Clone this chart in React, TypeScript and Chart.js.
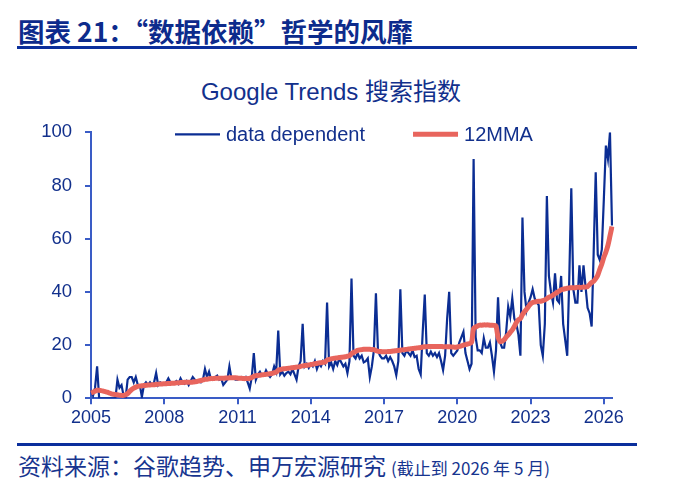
import React, { useEffect, useRef } from 'react';
import Chart from 'chart.js/auto';

// monthly, Jan 2005 - May 2026
const startYear = 2005;
const yTicks = [0, 20, 40, 60, 80, 100];

const dataDependent = [
  3, 1, 4, 12, 0, 0, 0, 0, 0, 0, 0, 0, // 2005
  0, 7, 4, 5, 1, 0, 7, 8, 8, 6, 8, 5, // 2006
  5, 0.5, 5, 6, 5, 6, 5, 6, 9.5, 5, 6, 5.5, // 2007
  5.5, 6, 7.5, 6, 5.5, 6, 6.5, 5.5, 7.5, 6, 5.5, 6.5, // 2008
  5, 6.5, 8, 7, 6, 6.5, 6, 7, 11, 8, 10, 7, // 2009
  7, 8, 8.5, 7, 7.5, 5, 6, 7, 12, 7.5, 7.5, 7, // 2010
  7, 7.5, 8, 7.5, 8, 6, 3.7, 8, 17, 7, 9, 10, // 2011
  8.5, 8.5, 10.5, 9, 8, 9, 12, 10, 25.5, 9, 10, 8.5, // 2012
  9.5, 10, 9, 11, 9, 7, 12, 14, 28, 12, 13, 11.5, // 2013
  13, 12, 14, 11, 13, 12, 14, 13, 36, 12, 13.5, 11, // 2014
  14, 12.5, 15, 13.5, 12, 13, 9.5, 14, 45, 16, 15, 17, // 2015
  15, 16, 13.5, 14, 15, 8, 12, 18, 39.5, 18, 16, 15, // 2016
  15, 16, 14, 15.5, 14, 12, 8.7, 14, 41, 17, 16, 18, // 2017
  17, 16, 18, 15.5, 16, 11, 9, 25, 39, 17, 16, 17.5, // 2018
  16, 17, 15.5, 17, 14, 10.6, 16, 30, 40, 17, 16, 17, // 2019
  18, 21, 23, 25, 17, 14, 11, 13, 90, 23, 18, 18, // 2020
  17, 22.6, 19, 19, 21, 16, 10, 18, 38, 21, 19, 19, // 2021
  25, 34.5, 30.7, 37.6, 30, 28, 24, 16, 68, 40, 33, 36, // 2022
  38, 41, 37.6, 36, 35, 20, 16, 28, 76, 46, 40, 36, // 2023
  47, 37, 36, 46, 28, 22, 16, 45, 79, 41, 36, 36, // 2024
  50, 40, 50, 42, 34, 32, 27, 55, 85, 54, 52, 56, // 2025
  75, 95, 90, 100, 65 // 2026
];

const mma12 = [
  2, 2.3, 2.7, 3, 3, 2.9, 2.7, 2.5, 2.3, 2, 1.7, 1.5,
  1.4, 1.3, 1.2, 1.1, 1.1, 1.3, 1.8, 2.6, 3.3, 3.8, 4.2, 4.5,
  4.6, 4.7, 4.8, 4.9, 5, 5, 5.1, 5.1, 5.2, 5.3, 5.4, 5.4,
  5.5, 5.5, 5.6, 5.6, 5.7, 5.7, 5.8, 5.8, 5.9, 5.9, 6, 6,
  6, 6, 6.1, 6.2, 6.3, 6.5, 6.7, 6.9, 7.1, 7.2, 7.3, 7.4,
  7.4, 7.5, 7.5, 7.5, 7.5, 7.5, 7.6, 7.6, 7.7, 7.7, 7.7, 7.7,
  7.6, 7.5, 7.5, 7.4, 7.4, 7.4, 7.5, 7.8, 8.3, 8.5, 8.6, 8.7,
  8.8, 8.9, 9, 9.1, 9.2, 9.4, 9.6, 9.8, 10.6, 10.8, 11, 11.1,
  11.2, 11.3, 11.4, 11.5, 11.6, 11.7, 11.8, 12, 12.2, 12.3, 12.4, 12.5,
  12.7, 12.8, 13, 13.1, 13.3, 13.4, 13.5, 13.6, 14.4, 14.6, 14.8, 15,
  15.1, 15.2, 15.3, 15.4, 15.5, 15.6, 15.8, 16, 16.8, 17.2, 17.6, 18,
  18.2, 18.3, 18.4, 18.4, 18.4, 18.4, 18.3, 18.3, 17.9, 17.7, 17.6, 17.5,
  17.5, 17.5, 17.6, 17.6, 17.7, 17.8, 17.9, 18, 18.1, 18.2, 18.3, 18.4,
  18.5, 18.6, 18.7, 18.8, 18.9, 19, 19.1, 19.3, 19.4, 19.4, 19.5, 19.5,
  19.5, 19.5, 19.5, 19.5, 19.5, 19.4, 19.4, 19.4, 19.4, 19.3, 19.3, 19.2,
  19.3, 19.5, 19.7, 20, 20.2, 20.4, 20.6, 21, 26.3, 26.8, 27.2, 27.5,
  27.5, 27.6, 27.6, 27.6, 27.5, 27.5, 27.4, 27.2, 23, 21.3, 21.5, 22,
  23, 23.8, 24.8, 25.7, 27, 28.5, 29.5, 30, 31.5, 32.5, 33.5, 34.5,
  35.5, 36, 36.2, 36.4, 36.5, 36.5, 36.7, 37, 37.5, 38, 38.3, 38.8,
  39.3, 39.8, 40.3, 40.8, 41, 41.2, 41.4, 41.5, 41.6, 41.6, 41.6, 41.7,
  41.7, 41.7, 41.8, 41.8, 42, 42.8, 43.5, 44, 45, 46.3, 48.5, 50.5,
  53, 55, 57.5, 61, 64.6
];

const labels = dataDependent.map(
  (_, i) => `${startYear + Math.floor(i / 12)}-${String((i % 12) + 1).padStart(2, '0')}`
);

const navy = '#12308c';
const axisBlue = '#3a5cc6';
const fontFamily = '"Liberation Sans", Arial, "Noto Sans CJK SC", sans-serif';
const cjkFamily = '"Noto Sans CJK SC", "Liberation Sans", sans-serif';

// legend drawn inside the plot, line samples + text
const lineLegend = {
  id: 'lineLegend',
  afterDraw(chart: any) {
    const { ctx, chartArea } = chart;
    ctx.save();
    ctx.font = `20px ${fontFamily}`;
    ctx.textBaseline = 'middle';
    let x = chartArea.left + 84;
    const y = chartArea.top + 2;
    chart.data.datasets.forEach((ds: any) => {
      ctx.strokeStyle = ds.borderColor;
      ctx.lineWidth = ds.borderWidth;
      ctx.beginPath();
      ctx.moveTo(x, y);
      ctx.lineTo(x + 45, y);
      ctx.stroke();
      ctx.fillStyle = navy;
      ctx.fillText(ds.label, x + 51, y + 1);
      x += 51 + ctx.measureText(ds.label).width + 48;
    });
    ctx.restore();
  }
};

const TrendsChart = () => {
  const chartRef = useRef<HTMLCanvasElement>(null);

  useEffect(() => {
    if (!chartRef.current) return;
    const chart = new Chart(chartRef.current, {
      type: 'line',
      data: {
        labels,
        datasets: [
          {
            label: 'data dependent',
            data: dataDependent,
            borderColor: '#0b2d93',
            borderWidth: 2.2,
            pointRadius: 0,
            tension: 0,
            order: 1
          },
          {
            label: '12MMA',
            data: mma12,
            borderColor: '#e8655d',
            borderWidth: 5,
            pointRadius: 0,
            tension: 0.3,
            order: 0
          }
        ]
      },
      options: {
        animation: false,
        responsive: true,
        maintainAspectRatio: false,
        layout: { padding: { left: 0, right: 70, top: 76.3, bottom: 0 } },
        plugins: {
          legend: { display: false },
          tooltip: { enabled: false },
          title: { display: false }
        },
        scales: {
          x: {
            type: 'category',
            offset: false,
            afterBuildTicks: (scale: any) => {
              scale.ticks = scale.ticks.filter((t: any) => t.value % 36 === 0);
            },
            afterFit: (scale: any) => {
              scale.height = 31.7;
            },
            grid: {
              display: true,
              drawOnChartArea: false,
              drawTicks: true,
              tickLength: 6,
              color: axisBlue,
              lineWidth: 2
            },
            border: { display: true, color: axisBlue, width: 2 },
            ticks: {
              autoSkip: false,
              maxRotation: 0,
              padding: 3,
              color: navy,
              font: { size: 18, family: fontFamily },
              callback: function (this: any, value: any) {
                return String(this.getLabelForValue(value)).slice(0, 4);
              }
            }
          },
          y: {
            min: 0,
            max: 100,
            afterBuildTicks: (scale: any) => {
              scale.ticks = yTicks.map((v) => ({ value: v }));
            },
            afterFit: (scale: any) => {
              scale.width = 91;
            },
            grid: {
              display: true,
              drawOnChartArea: false,
              drawTicks: true,
              tickLength: 6,
              color: axisBlue,
              lineWidth: 2
            },
            border: { display: true, color: axisBlue, width: 2 },
            ticks: {
              padding: 13,
              color: navy,
              font: { size: 18.5, family: fontFamily }
            }
          }
        }
      },
      plugins: [lineLegend]
    });

    return () => {
      chart.destroy();
    };
  }, []);

  return <canvas ref={chartRef} />;
};

export default function App() {
  return (
    <div
      style={{
        position: 'absolute',
        left: 0,
        top: 0,
        width: 682,
        height: 492,
        background: '#fff',
        fontFamily: cjkFamily
      }}
    >
      <div
        style={{
          position: 'absolute',
          left: 18,
          top: 17,
          fontSize: 26.5,
          lineHeight: '28px',
          fontWeight: 700,
          color: '#0d2b8c',
          whiteSpace: 'nowrap'
        }}
      >
        图表 21：“数据依赖”哲学的风靡
      </div>
      <div style={{ position: 'absolute', left: 17, top: 46, width: 620, height: 3, background: '#0b2f9c' }} />
      <div
        style={{
          position: 'absolute',
          left: 0,
          top: 78,
          width: 662,
          textAlign: 'center',
          fontFamily,
          fontSize: 24,
          lineHeight: '28px',
          color: navy,
          whiteSpace: 'nowrap'
        }}
      >
        Google Trends 搜索指数
      </div>
      <div style={{ position: 'absolute', left: 0, top: 56, width: 682, height: 374 }}>
        <TrendsChart />
      </div>
      <div style={{ position: 'absolute', left: 17, top: 443, width: 620, height: 3, background: '#0b2f9c' }} />
      <div
        style={{
          position: 'absolute',
          left: 18,
          top: 452,
          fontSize: 23,
          lineHeight: '27px',
          color: '#17358f',
          whiteSpace: 'nowrap'
        }}
      >
        资料来源：谷歌趋势、申万宏源研究
        <span style={{ fontSize: 17, marginLeft: 5 }}>(截止到 2026 年 5 月)</span>
      </div>
    </div>
  );
}
